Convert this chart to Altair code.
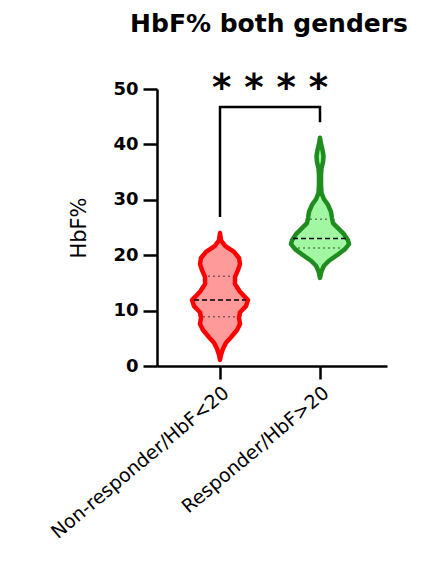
import altair as alt
import pandas as pd

# ---- data ----
groups = ["Non-responder/HbF<20", "Responder/HbF>20"]

# violin outlines: HbF% level and half-width (in category-spacing units)
red_levels = [1.1, 2.0, 3.1, 4.2, 5.2, 6.5, 7.6, 8.7, 9.7, 10.8, 11.9, 13.4, 14.8, 16.1, 17.3, 18.4, 19.5, 20.6, 21.7, 22.7, 24.0]
red_halfw = [0.0, 0.01, 0.03, 0.06, 0.11, 0.17, 0.20, 0.19, 0.20, 0.26, 0.28, 0.20, 0.15, 0.15, 0.18, 0.20, 0.19, 0.14, 0.05, 0.01, 0.0]

green_levels = [15.9, 17.1, 18.1, 19.0, 20.0, 21.1, 22.0, 22.7, 23.8, 24.9, 25.8, 26.7, 27.8, 29.1, 30.1, 31.2, 32.7, 34.5, 35.7, 36.8, 37.9, 39.0, 40.1, 41.2]
green_halfw = [0.0, 0.015, 0.04, 0.09, 0.17, 0.25, 0.29, 0.28, 0.24, 0.18, 0.13, 0.12, 0.11, 0.08, 0.04, 0.015, 0.01, 0.01, 0.015, 0.03, 0.035, 0.025, 0.01, 0.0]

medians = [11.9, 23.0]
q1 = [8.9, 21.3]
q3 = [16.2, 26.5]
median_hw = [0.26, 0.27]
q1_hw = [0.17, 0.22]
q3_hw = [0.12, 0.10]

bracket_x = [0, 0, 1, 1]
bracket_y = [26.9, 46.75, 46.75, 44.0]
sig_label = "* * * *"

fill_colors = ["#ff9a9a", "#a2f7a2"]
stroke_colors = ["#ff0000", "#1e8c1e"]

# ---- tables ----
rows = []
for gi, (lv, hw) in enumerate([(red_levels, red_halfw), (green_levels, green_halfw)]):
    for l, h in zip(lv, hw):
        rows.append({"group": groups[gi], "level": l, "left": gi - h, "right": gi + h})
violin_df = pd.DataFrame(rows)

lines = []
for gi in range(2):
    lines.append({"kind": "median", "y": medians[gi], "x": gi - median_hw[gi], "x2": gi + median_hw[gi]})
    lines.append({"kind": "q", "y": q1[gi], "x": gi - q1_hw[gi], "x2": gi + q1_hw[gi]})
    lines.append({"kind": "q", "y": q3[gi], "x": gi - q3_hw[gi], "x2": gi + q3_hw[gi]})
lines_df = pd.DataFrame(lines)

bracket_df = pd.DataFrame({"x": bracket_x, "y": bracket_y, "ord": list(range(len(bracket_x)))})
sig_df = pd.DataFrame({"x": [(bracket_x[0] + bracket_x[-1]) / 2], "y": [max(bracket_y)], "t": [sig_label]})

label_expr = f"datum.value == 0 ? '{groups[0]}' : '{groups[1]}'"

xscale = alt.Scale(domain=[-0.63, 1.67], nice=False, zero=False)
yscale = alt.Scale(domain=[0, 50], nice=False)

xaxis = alt.Axis(values=[0, 1], labelExpr=label_expr, title=None, grid=False,
                 tickSize=13, tickWidth=2.5, tickColor="black", domainColor="black", domainWidth=2.5,
                 labelAngle=-40, labelFont="DejaVu Sans", labelFontSize=19, labelColor="black",
                 labelPadding=4, labelFlush=False, labelOverlap=False, labelBound=False, labelLimit=0)
yaxis = alt.Axis(values=[0, 10, 20, 30, 40, 50], title="HbF%", grid=False,
                 tickSize=14, tickWidth=2.5, tickColor="black", domainColor="black", domainWidth=2.5,
                 labelFont="DejaVu Sans", labelFontWeight="bold", labelFontSize=18, labelColor="black",
                 labelPadding=5, titleFont="DejaVu Sans", titleFontWeight="normal", titleFontSize=21,
                 titleColor="black", titlePadding=23)

fill_scale = alt.Scale(domain=groups, range=fill_colors)
stroke_scale = alt.Scale(domain=groups, range=stroke_colors)

violins = alt.Chart(violin_df).mark_area(orient="horizontal", strokeWidth=4.5, strokeJoin="round").encode(
    y=alt.Y("level:Q", scale=yscale, axis=yaxis),
    x=alt.X("left:Q", scale=xscale, axis=xaxis),
    x2="right:Q",
    fill=alt.Fill("group:N", scale=fill_scale, legend=None),
    stroke=alt.Stroke("group:N", scale=stroke_scale, legend=None),
)

med = alt.Chart(lines_df).transform_filter("datum.kind == 'median'").mark_rule(
    color="black", strokeWidth=1.5, strokeDash=[5, 3]).encode(
    x="x:Q", x2="x2:Q", y="y:Q")
quart = alt.Chart(lines_df).transform_filter("datum.kind == 'q'").mark_rule(
    color="black", opacity=0.45, strokeWidth=1.5, strokeDash=[2, 3]).encode(
    x="x:Q", x2="x2:Q", y="y:Q")

bracket = alt.Chart(bracket_df).mark_line(color="black", strokeWidth=2.5, strokeJoin="miter").encode(
    x="x:Q", y="y:Q", order="ord:Q")

sig = alt.Chart(sig_df).mark_text(font="DejaVu Sans", fontWeight="bold", fontSize=37,
                                  baseline="alphabetic", dy=-7, color="black").encode(
    x="x:Q", y="y:Q", text="t:N")

chart = alt.layer(violins, med, quart, bracket, sig).properties(
    width=230, height=277,
    background="white",
    title=alt.TitleParams("HbF% both genders", font="DejaVu Sans", fontWeight="bold", fontSize=25,
                          anchor="middle", frame="group", color="black", offset=33, dx=-3),
    autosize=alt.AutoSizeParams(type="none"),
    padding={"left": 149, "top": 81, "right": 30, "bottom": 184},
).configure_view(stroke=None)

chart.save("out.html", embed_options={"renderer": "svg", "actions": False})
